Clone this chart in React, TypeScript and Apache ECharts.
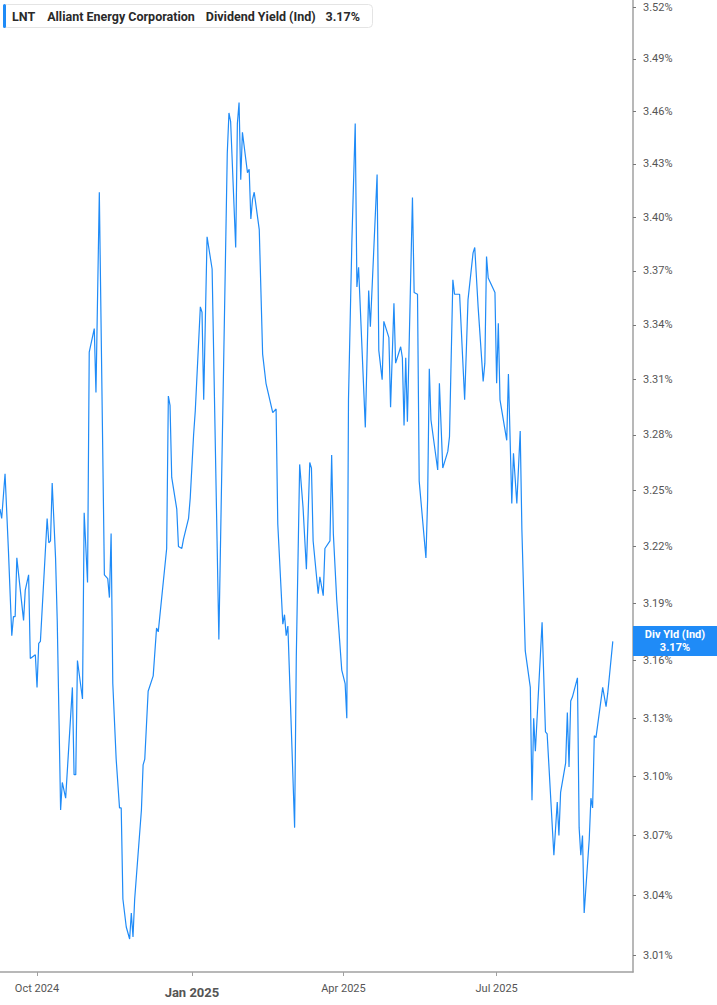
import React, { useEffect, useRef } from 'react';
import * as echarts from 'echarts';

// LNT dividend yield (Ind)
const dates = [
  '2024-09-09', '2024-09-10', '2024-09-12', '2024-09-14', '2024-09-16', '2024-09-17', '2024-09-18', '2024-09-19',
  '2024-09-23', '2024-09-24', '2024-09-26', '2024-09-27', '2024-09-30', '2024-10-01', '2024-10-02', '2024-10-03',
  '2024-10-07', '2024-10-08', '2024-10-09', '2024-10-10', '2024-10-12', '2024-10-13', '2024-10-15', '2024-10-16',
  '2024-10-18', '2024-10-22', '2024-10-23', '2024-10-24', '2024-10-25', '2024-10-28', '2024-10-29', '2024-10-31',
  '2024-11-01', '2024-11-04', '2024-11-05', '2024-11-07', '2024-11-10', '2024-11-12', '2024-11-13', '2024-11-14',
  '2024-11-15', '2024-11-17', '2024-11-19', '2024-11-20', '2024-11-21', '2024-11-23', '2024-11-25', '2024-11-26',
  '2024-11-27', '2024-11-28', '2024-12-02', '2024-12-03', '2024-12-04', '2024-12-06', '2024-12-09', '2024-12-11',
  '2024-12-12', '2024-12-17', '2024-12-18', '2024-12-19', '2024-12-20', '2024-12-23', '2024-12-24', '2024-12-26',
  '2024-12-27', '2024-12-30', '2024-12-31', '2025-01-02', '2025-01-03', '2025-01-06', '2025-01-07', '2025-01-08',
  '2025-01-10', '2025-01-13', '2025-01-17', '2025-01-22', '2025-01-23', '2025-01-24', '2025-01-27', '2025-01-28',
  '2025-01-29', '2025-01-30', '2025-01-31', '2025-02-03', '2025-02-04', '2025-02-05', '2025-02-06', '2025-02-07',
  '2025-02-10', '2025-02-12', '2025-02-14', '2025-02-18', '2025-02-20', '2025-02-21', '2025-02-24', '2025-02-25',
  '2025-02-26', '2025-02-27', '2025-03-03', '2025-03-04', '2025-03-06', '2025-03-08', '2025-03-10', '2025-03-12',
  '2025-03-13', '2025-03-14', '2025-03-17', '2025-03-18', '2025-03-20', '2025-03-21', '2025-03-24', '2025-03-25',
  '2025-03-26', '2025-03-28', '2025-03-31', '2025-04-02', '2025-04-03', '2025-04-04', '2025-04-06', '2025-04-08',
  '2025-04-09', '2025-04-10', '2025-04-14', '2025-04-16', '2025-04-17', '2025-04-21', '2025-04-22', '2025-04-24',
  '2025-04-25', '2025-04-28', '2025-04-29', '2025-05-01', '2025-05-02', '2025-05-05', '2025-05-06', '2025-05-07',
  '2025-05-08', '2025-05-09', '2025-05-12', '2025-05-13', '2025-05-15', '2025-05-16', '2025-05-20', '2025-05-21',
  '2025-05-22', '2025-05-23', '2025-05-27', '2025-05-28', '2025-05-30', '2025-06-02', '2025-06-03', '2025-06-05',
  '2025-06-06', '2025-06-09', '2025-06-12', '2025-06-13', '2025-06-14', '2025-06-17', '2025-06-18', '2025-06-20',
  '2025-06-23', '2025-06-24', '2025-06-25', '2025-06-26', '2025-06-30', '2025-07-01', '2025-07-02', '2025-07-03',
  '2025-07-07', '2025-07-08', '2025-07-10', '2025-07-11', '2025-07-13', '2025-07-15', '2025-07-16', '2025-07-18',
  '2025-07-21', '2025-07-22', '2025-07-23', '2025-07-24', '2025-07-28', '2025-07-30', '2025-07-31', '2025-08-04',
  '2025-08-06', '2025-08-07', '2025-08-08', '2025-08-11', '2025-08-12', '2025-08-13', '2025-08-14', '2025-08-15',
  '2025-08-18', '2025-08-19', '2025-08-20', '2025-08-21', '2025-08-22', '2025-08-25', '2025-08-26', '2025-08-27',
  '2025-08-28', '2025-08-29', '2025-09-02', '2025-09-04', '2025-09-05', '2025-09-08',
];

const yields = [
  3.240, 3.235, 3.259, 3.218, 3.173, 3.183, 3.183, 3.214,
  3.181, 3.197, 3.205, 3.161, 3.163, 3.146, 3.169, 3.170,
  3.235, 3.222, 3.223, 3.254, 3.214, 3.181, 3.083, 3.097,
  3.089, 3.146, 3.101, 3.101, 3.160, 3.140, 3.238, 3.201,
  3.325, 3.338, 3.303, 3.414, 3.205, 3.203, 3.193, 3.227,
  3.148, 3.109, 3.084, 3.084, 3.038, 3.024, 3.018, 3.031,
  3.019, 3.038, 3.083, 3.106, 3.109, 3.144, 3.152, 3.177,
  3.175, 3.219, 3.301, 3.296, 3.257, 3.240, 3.220, 3.219,
  3.224, 3.235, 3.246, 3.280, 3.293, 3.350, 3.347, 3.299,
  3.389, 3.371, 3.171, 3.436, 3.459, 3.454, 3.383, 3.453,
  3.465, 3.421, 3.448, 3.425, 3.427, 3.399, 3.410, 3.414,
  3.393, 3.324, 3.308, 3.292, 3.294, 3.232, 3.179, 3.184,
  3.173, 3.178, 3.074, 3.162, 3.264, 3.241, 3.208, 3.265,
  3.262, 3.223, 3.195, 3.204, 3.194, 3.219, 3.223, 3.269,
  3.227, 3.192, 3.155, 3.148, 3.130, 3.299, 3.386, 3.453,
  3.361, 3.372, 3.284, 3.359, 3.339, 3.424, 3.326, 3.310,
  3.342, 3.333, 3.295, 3.352, 3.319, 3.328, 3.322, 3.285,
  3.322, 3.287, 3.411, 3.358, 3.357, 3.255, 3.214, 3.245,
  3.316, 3.288, 3.261, 3.308, 3.262, 3.271, 3.279, 3.365,
  3.357, 3.357, 3.299, 3.326, 3.354, 3.380, 3.383, 3.350,
  3.309, 3.319, 3.378, 3.366, 3.358, 3.308, 3.341, 3.299,
  3.277, 3.313, 3.243, 3.270, 3.243, 3.282, 3.229, 3.165,
  3.146, 3.088, 3.130, 3.113, 3.180, 3.123, 3.122, 3.060,
  3.087, 3.070, 3.092, 3.107, 3.133, 3.105, 3.139, 3.141,
  3.151, 3.074, 3.060, 3.070, 3.031, 3.068, 3.089, 3.084,
  3.121, 3.120, 3.146, 3.136, 3.143, 3.170,
];

const yTicks = [3.01, 3.04, 3.07, 3.1, 3.13, 3.16, 3.19, 3.22, 3.25, 3.28, 3.31, 3.34, 3.37, 3.4, 3.43, 3.46, 3.49, 3.52];
const xTicks = ['2024-10-01', '2025-01-01', '2025-04-01', '2025-07-01'];
const lastYield = 3.17;

const MONTHS = ['Jan', 'Feb', 'Mar', 'Apr', 'May', 'Jun', 'Jul', 'Aug', 'Sep', 'Oct', 'Nov', 'Dec'];
const BLUE = '#1f8bf7';
const FONT = 'Roboto';

const ts = (s: string) => {
  const [y, m, d] = s.split('-').map(Number);
  return new Date(y, m - 1, d).getTime();
};

const App: React.FC = () => {
  const chartRef = useRef<HTMLDivElement>(null);

  useEffect(() => {
    if (!chartRef.current) return;
    const chart = echarts.init(chartRef.current, null, { renderer: 'svg' });

    // x: timestamps on a value axis, y: log of yield (the reference axis is logarithmic)
    const seriesData = dates.map((d, i) => [ts(d), Math.log(yields[i])]);

    chart.setOption({
      animation: false,
      title: {
        left: 3,
        top: 4,
        padding: [0, 13, 0, 0],
        backgroundColor: '#fff',
        borderColor: '#e4e4e4',
        borderWidth: 1,
        borderRadius: 4,
        text: '{bar|}{tk|LNT}{nm|Alliant Energy Corporation}{mt|Dividend Yield (Ind)}{vl|3.17%}',
        textStyle: {
          rich: {
            bar: { width: 3, height: 24, backgroundColor: BLUE, borderRadius: 1.5 },
            tk: { fontFamily: FONT, fontSize: 12.5, fontWeight: 'bold', color: '#2a2a2a', padding: [0, 0, 0, 6] },
            nm: { fontFamily: FONT, fontSize: 12.5, fontWeight: 'bold', color: '#2a2a2a', padding: [0, 0, 0, 12] },
            mt: { fontFamily: FONT, fontSize: 12.5, color: '#2a2a2a', padding: [0, 0, 0, 11] },
            vl: { fontFamily: FONT, fontSize: 12.5, fontWeight: 'bold', color: '#2a2a2a', padding: [0, 0, 0, 10] },
          },
        },
      },
      grid: { left: 0, right: 84, top: 0, bottom: 33, outerBoundsMode: 'none' },
      xAxis: {
        type: 'value',
        min: ts('2024-09-09'),
        max: ts('2025-09-20'),
        splitLine: { show: false },
        axisLine: { show: true, lineStyle: { color: '#a0a0a0', width: 1.5 } },
        axisTick: { show: true, length: 4, customValues: xTicks.map(ts), lineStyle: { color: '#a0a0a0' } },
        axisLabel: {
          customValues: xTicks.map(ts),
          color: '#555',
          fontFamily: FONT,
          fontSize: 11,
          margin: 11,
          formatter: (v: number) => {
            const d = new Date(v);
            const s = MONTHS[d.getMonth()] + ' ' + d.getFullYear();
            return d.getMonth() === 0 ? '{b|' + s + '}' : s;
          },
          rich: { b: { fontFamily: FONT, fontSize: 13, fontWeight: 'bold', color: '#555', padding: [3, 0, 0, 0] } },
        },
      },
      yAxis: {
        type: 'value',
        position: 'right',
        min: Math.log(3.0016),
        max: Math.log(3.5241),
        splitLine: { show: false },
        axisLine: { show: true, lineStyle: { color: '#a0a0a0', width: 1.5 } },
        axisTick: { show: true, length: 3, customValues: yTicks.map(Math.log), lineStyle: { color: '#777' } },
        axisLabel: {
          customValues: yTicks.map(Math.log),
          color: '#555',
          fontFamily: FONT,
          fontSize: 11,
          margin: 10,
          formatter: (v: number) => Math.exp(v).toFixed(2) + '%',
        },
      },
      series: [
        {
          type: 'line',
          data: seriesData,
          showSymbol: false,
          symbol: 'none',
          clip: false,
          lineStyle: { color: BLUE, width: 1.2 },
          markLine: {
            silent: true,
            symbol: 'none',
            lineStyle: { color: 'rgba(0,0,0,0)', width: 0 },
            data: [{ yAxis: Math.log(lastYield) }],
            label: {
              show: true,
              position: 'end',
              distance: 0,
              offset: [0, -23],
              backgroundColor: BLUE,
              padding: [2, 0],
              formatter: '{t|Div Yld (Ind)}\n{t|' + lastYield.toFixed(2) + '%}',
              rich: {
                t: { width: 84, align: 'center', color: '#fff', fontFamily: FONT, fontWeight: 'bold', fontSize: 11, lineHeight: 13 },
              },
            },
          },
        },
      ],
    });

    return () => chart.dispose();
  }, []);

  return <div ref={chartRef} style={{ position: 'absolute', left: 0, top: 0, width: 717, height: 1005 }} />;
};

export default App;
